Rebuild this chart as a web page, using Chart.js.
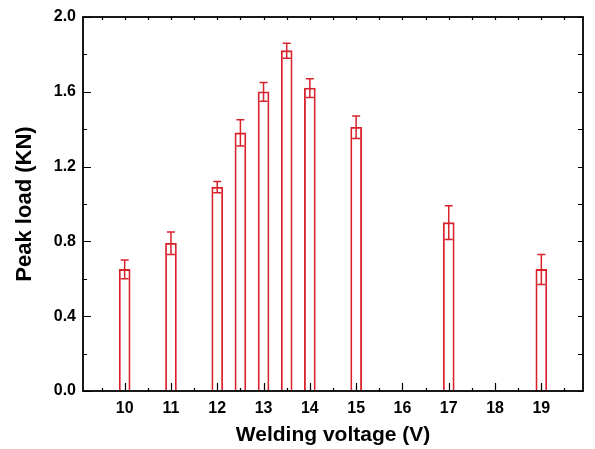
<!DOCTYPE html>
<html>
<head>
<meta charset="utf-8">
<script src="https://cdn.jsdelivr.net/npm/chart.js@4/dist/chart.umd.min.js"></script>
<style>
  html, body { margin: 0; padding: 0; background: #ffffff; }
  #wrap { width: 595px; height: 449px; }
</style>
</head>
<body>
<div id="wrap"><canvas id="chart" width="595" height="449"></canvas></div>
<script>
// Peak load measured at each welding voltage, with its error
const voltages  = [10, 11, 12, 12.5, 13, 13.5, 14, 15, 17, 19];
const peakLoad  = [0.65, 0.79, 1.09, 1.38, 1.60, 1.82, 1.62, 1.41, 0.90, 0.65];
const loadError = [0.05, 0.06, 0.03, 0.07, 0.05, 0.04, 0.05, 0.06, 0.09, 0.08];

// Axis ticks
const xTicks = [10, 11, 12, 13, 14, 15, 16, 17, 18, 19];
const yTicks = [0.0, 0.4, 0.8, 1.2, 1.6, 2.0];

const RED = '#d8232c';
const FONT = '"Liberation Sans", Arial, Helvetica, sans-serif';

// Error bars with caps, drawn over the bars
const errorBars = {
  id: 'errorBars',
  afterDatasetsDraw(chart) {
    const { ctx, scales: { x, y } } = chart;
    ctx.save();
    ctx.strokeStyle = RED;
    ctx.lineWidth = 1.5;
    voltages.forEach((v, i) => {
      const px = x.getPixelForValue(v);
      const top = y.getPixelForValue(peakLoad[i] + loadError[i]);
      const bot = y.getPixelForValue(peakLoad[i] - loadError[i]);
      ctx.beginPath();
      ctx.moveTo(px, top); ctx.lineTo(px, bot);
      ctx.moveTo(px - 4, top); ctx.lineTo(px + 4, top);
      ctx.moveTo(px - 4, bot); ctx.lineTo(px + 4, bot);
      ctx.stroke();
    });
    ctx.restore();
  }
};

// Closed frame with inward tick marks on all four sides
const frame = {
  id: 'frame',
  afterDraw(chart) {
    const { ctx, chartArea: a, scales: { x, y } } = chart;
    ctx.save();
    ctx.strokeStyle = '#000';
    ctx.lineWidth = 1.2;
    ctx.beginPath();
    // left and right (major + minor)
    for (let v = 0; v <= 2.0001; v += 0.2) {
      const py = Math.round(y.getPixelForValue(v)) + 0.5;
      const major = Math.abs(v / 0.4 - Math.round(v / 0.4)) < 1e-6;
      ctx.moveTo(a.left, py); ctx.lineTo(a.left + (major ? 8 : 4), py);
      ctx.moveTo(a.right, py); ctx.lineTo(a.right - 5, py);
    }
    // bottom and top (major at integers, minor at halves)
    for (let v = 9.5; v <= 19.5001; v += 0.5) {
      const px = Math.round(x.getPixelForValue(v)) + 0.5;
      const major = Math.abs(v - Math.round(v)) < 1e-6;
      ctx.moveTo(px, a.bottom); ctx.lineTo(px, a.bottom - (major ? 8 : 3));
      ctx.moveTo(px, a.top); ctx.lineTo(px, a.top + 3);
    }
    ctx.stroke();
    ctx.lineWidth = 1.8;
    ctx.strokeRect(a.left, a.top, a.right - a.left, a.bottom - a.top);
    ctx.restore();
  }
};

new Chart(document.getElementById('chart'), {
  type: 'bar',
  data: {
    datasets: [{
      data: voltages.map((v, i) => ({ x: v, y: peakLoad[i] })),
      backgroundColor: '#ffffff',
      borderColor: RED,
      borderWidth: 1.8,
      barThickness: 11
    }]
  },
  options: {
    responsive: false,
    devicePixelRatio: 1,
    animation: false,
    layout: { padding: { top: 17, right: 12, left: 0, bottom: 0 } },
    plugins: { legend: { display: false }, tooltip: { enabled: false } },
    scales: {
      x: {
        type: 'linear',
        min: 9.1,
        max: 19.9,
        offset: false,
        grid: { display: false, drawTicks: false },
        border: { display: false },
        afterBuildTicks: s => { s.ticks = xTicks.map(v => ({ value: v })); },
        afterFit: s => { s.height = 58; },
        ticks: {
          autoSkip: false,
          maxRotation: 0,
          padding: 8,
          color: '#000',
          font: { family: FONT, size: 16, weight: 'bold' },
          callback: v => String(v)
        },
        title: {
          display: true,
          text: 'Welding voltage (V)',
          color: '#000',
          font: { family: FONT, size: 21, weight: 'bold' },
          padding: { top: 0, bottom: 1 }
        }
      },
      y: {
        min: 0,
        max: 2,
        grid: { display: false, drawTicks: false },
        border: { display: false },
        afterBuildTicks: s => { s.ticks = yTicks.map(v => ({ value: v })); },
        afterFit: s => { s.width = 83; },
        ticks: {
          padding: 7,
          color: '#000',
          font: { family: FONT, size: 16, weight: 'bold' },
          callback: v => Number(v).toFixed(1)
        },
        title: {
          display: true,
          text: 'Peak load (KN)',
          color: '#000',
          font: { family: FONT, size: 22, weight: 'bold' },
          padding: { top: 12, bottom: 0 }
        }
      }
    }
  },
  plugins: [errorBars, frame]
});
</script>
</body>
</html>
